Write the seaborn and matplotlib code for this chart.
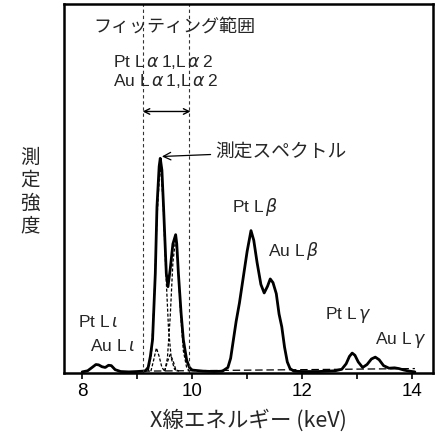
import matplotlib
matplotlib.use("Agg")
import matplotlib.pyplot as plt
import seaborn as sns
import pandas as pd

# ---- data ----
energy_keV = [8.00, 8.10, 8.18, 8.25, 8.30, 8.36, 8.42, 8.48, 8.53, 8.60, 8.70, 8.85,
              9.00, 9.10, 9.15, 9.20, 9.24, 9.28, 9.33, 9.36, 9.40, 9.42, 9.45, 9.48,
              9.53, 9.56, 9.60, 9.65, 9.70, 9.72, 9.75, 9.80, 9.84, 9.90, 9.95, 10.00,
              10.20, 10.40, 10.55, 10.65, 10.70, 10.75, 10.80, 10.86, 10.93, 11.00, 11.07,
              11.12, 11.18, 11.25, 11.31, 11.37, 11.42, 11.47, 11.53, 11.58, 11.63, 11.68,
              11.73, 11.78, 11.85, 12.00, 12.30, 12.60, 12.72, 12.80, 12.86, 12.91, 12.96,
              13.02, 13.10, 13.18, 13.26, 13.33, 13.40, 13.48, 13.58, 13.68, 13.76, 13.85,
              13.95, 14.05]
intensity = [0.3, 0.6, 1.5, 2.3, 2.2, 1.7, 1.5, 2.1, 2.0, 0.9, 0.4, 0.3,
             0.4, 0.5, 0.6, 1.5, 4.5, 9.0, 27.0, 45.0, 56.0, 58.2, 55.0, 45.0,
             27.0, 23.4, 28.0, 35.0, 37.5, 35.0, 27.0, 16.0, 9.0, 3.5, 1.5, 0.8,
             0.5, 0.4, 0.5, 1.5, 4.0, 9.0, 14.0, 19.0, 26.0, 33.0, 38.6,
             36.0, 30.0, 24.0, 21.7, 23.5, 25.5, 24.5, 21.5, 16.0, 12.5, 7.0,
             3.0, 1.2, 0.5, 0.4, 0.4, 0.6, 1.0, 2.5, 4.5, 5.4, 4.8,
             3.0, 1.5, 2.3, 3.8, 4.3, 3.6, 2.0, 1.3, 1.4, 1.2, 0.8,
             0.5, 0.3]

# fitted components (dashed)
pt_la1_x = [9.20, 9.26, 9.31, 9.36, 9.42, 9.47, 9.52, 9.57, 9.62, 9.68, 9.75]
pt_la1_y = [0.5, 5.0, 20.0, 42.0, 57.0, 47.0, 28.0, 12.0, 4.0, 1.0, 0.5]
au_la1_x = [9.50, 9.55, 9.60, 9.65, 9.70, 9.74, 9.79, 9.84, 9.90, 9.95]
au_la1_y = [0.5, 4.0, 15.0, 30.0, 36.5, 30.0, 16.0, 6.0, 1.5, 0.5]
pt_la2_x = [9.25, 9.30, 9.35, 9.40, 9.45, 9.50]
pt_la2_y = [0.5, 3.5, 6.8, 4.5, 1.5, 0.5]
au_la2_x = [9.50, 9.55, 9.60, 9.65, 9.70, 9.76]
au_la2_y = [0.5, 3.0, 5.0, 3.5, 1.0, 0.5]
bg_x = [9.10, 14.05]
bg_y = [0.5, 1.2]

fit_range = [9.10, 9.95]
xticks_major = [8, 10, 12, 14]
xticks_minor = [9, 11, 13]

sns.set_style("white")
plt.rcParams['font.family'] = ['Liberation Sans', 'Noto Sans CJK JP', 'DejaVu Sans']
plt.rcParams['mathtext.fontset'] = 'dejavusans'

fig = plt.figure(figsize=(4.43, 4.36), dpi=100)
ax = fig.add_axes([0.1445, 0.1445, 0.833, 0.846])

df = pd.DataFrame({"E": energy_keV, "I": intensity})
sns.lineplot(data=df, x="E", y="I", ax=ax, color="black", lw=2.0, sort=False)

for cx, cy in [(pt_la1_x, pt_la1_y), (au_la1_x, au_la1_y),
               (pt_la2_x, pt_la2_y), (au_la2_x, au_la2_y)]:
    sns.lineplot(x=cx, y=cy, ax=ax, color="black", lw=0.9, ls=(0, (2.5, 1.5)), sort=False)
sns.lineplot(x=bg_x, y=bg_y, ax=ax, color="black", lw=0.9, ls=(0, (6, 3)))

for xv in fit_range:
    ax.axvline(xv, color="#333333", lw=0.8, ls=(0, (3, 2.5)))

ax.annotate("", xy=(fit_range[0], 70.9), xytext=(fit_range[1] + 0.02, 70.9),
            arrowprops=dict(arrowstyle="<->", lw=1.0, color="black", shrinkA=0, shrinkB=0))

ax.set_xlim(7.67, 14.38)
ax.set_ylim(0, 100)
ax.set_xticks(xticks_major)
ax.set_xticks(xticks_minor, minor=True)
ax.set_xticklabels([str(t) for t in xticks_major], fontsize=13.5)
ax.set_yticks([])
ax.tick_params(axis="x", which="both", direction="out", length=4, width=1.2,
               bottom=True, pad=3, colors="black")
for s in ax.spines.values():
    s.set_linewidth(1.8)
    s.set_color("black")

cjk = ['Noto Sans CJK JP', 'DejaVu Sans']
ax.set_xlabel("X線エネルギー (keV)", fontsize=15.5, family=cjk, labelpad=7)
ax.set_ylabel("")
fig.text(0.068, 0.56, "測\n定\n強\n度", fontsize=14, family=cjk, ha="center", va="center",
         linespacing=1.12)

ax.text(9.67, 94, "フィッティング範囲", fontsize=13, family=cjk, ha="center", va="center")
ax.text(8.56, 84.2, "Pt L$\\,\\alpha\\,$1,L$\\,\\alpha\\,$2", fontsize=12.5, ha="left", va="center")
ax.text(8.56, 79.1, "Au L$\\,\\alpha\\,$1,L$\\,\\alpha\\,$2", fontsize=12.5, ha="left", va="center")

ax.annotate("測定スペクトル", xy=(9.45, 58.7), xytext=(10.42, 60.0), fontsize=13.5,
            family=cjk, ha="left", va="center",
            arrowprops=dict(arrowstyle="->", lw=0.9, color="black", shrinkA=1, shrinkB=0))

labels = [
    (10.72, 45.1, "Pt L$\\,\\beta$"),
    (11.38, 33.0, "Au L$\\,\\beta$"),
    (12.42, 15.8, "Pt L$\\,\\gamma$"),
    (13.33, 9.0, "Au L$\\,\\gamma$"),
    (7.93, 13.9, "Pt L$\\,\\iota$"),
    (8.15, 7.3, "Au L$\\,\\iota$"),
]
for lx, ly, lt in labels:
    ax.text(lx, ly, lt, fontsize=12.5, ha="left", va="center")

fig.savefig("out.png", dpi=100)
